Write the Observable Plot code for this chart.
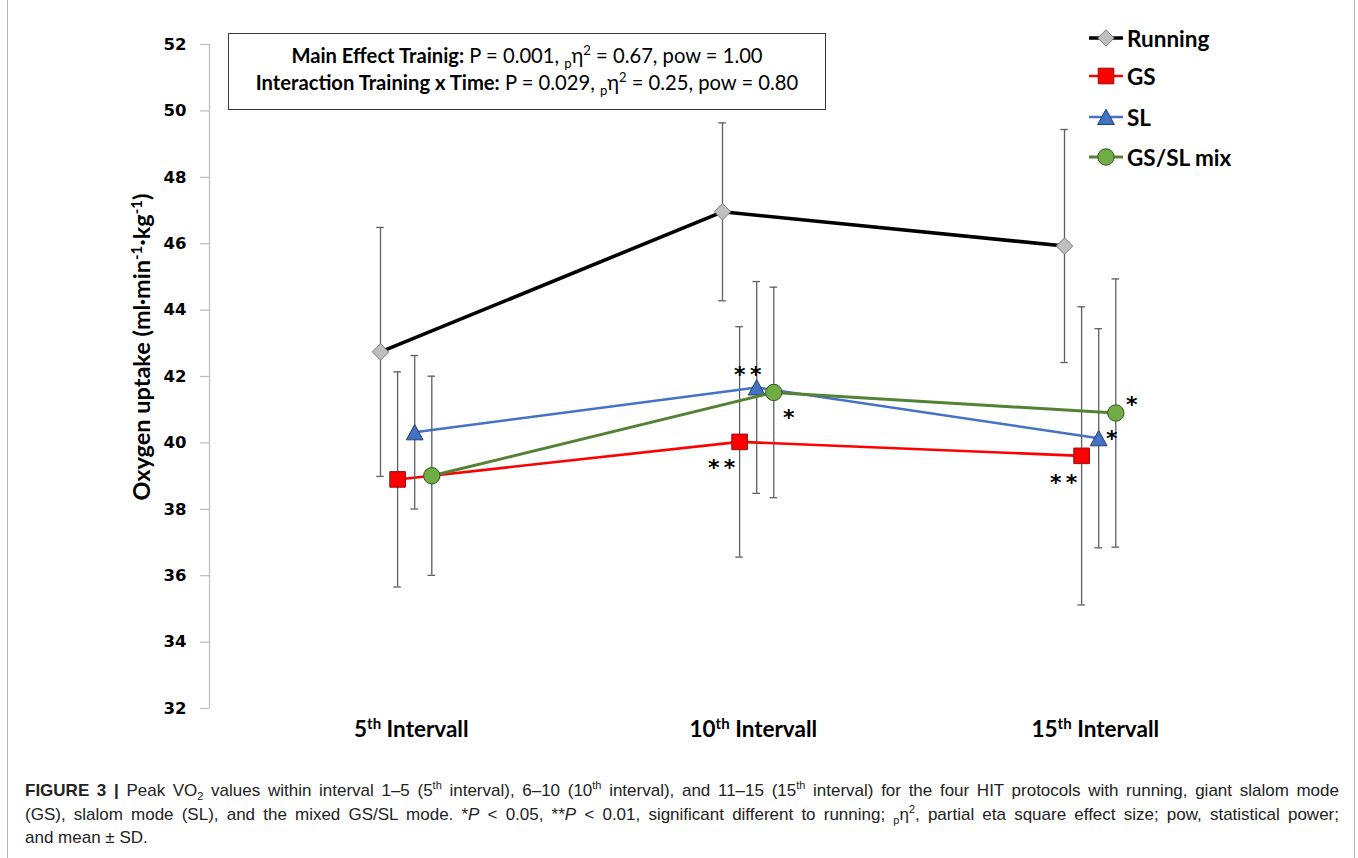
<!DOCTYPE html>
<html>
<head>
<meta charset="utf-8">
<script src="https://cdn.jsdelivr.net/npm/d3@7"></script>
<script src="https://cdn.jsdelivr.net/npm/@observablehq/plot@0.6"></script>
<style>
  html, body { margin: 0; padding: 0; background: #fff; }
  #wrap { position: relative; width: 1358px; height: 858px; overflow: hidden; background: #fff; }
  #chart { position: absolute; left: 0; top: 0; }
  #stats { position: absolute; left: 228px; top: 33px; width: 598px; height: 77px; border: 1.3px solid #3a3a3a;
           font-family: Lato, "Open Sans", sans-serif; font-size: 20.2px; color: #000; text-align: center;
           line-height: 27px; padding-top: 8px; box-sizing: border-box; white-space: nowrap; }
  #stats sub, #stats sup { font-size: 13px; line-height: 0; }
  #legend { position: absolute; left: 1087px; top: 24px; font-family: Lato, "Open Sans", sans-serif; font-weight: 700; font-size: 22.5px; color: #000; }
  .lrow { position: absolute; left: 0; height: 28px; display: flex; align-items: center; white-space: nowrap; }
  .lrow svg { margin-right: 2px; }
  #caption { position: absolute; left: 25px; top: 779px; width: 1314px; font-family: "Liberation Sans", Arial, sans-serif; font-size: 17px;
             line-height: 23.5px; color: #222; }
  #caption .cl { white-space: nowrap; }
  #caption .j { text-align: justify; text-align-last: justify; white-space: normal; }
  #caption sup, #caption sub { font-size: 11px; line-height: 0; }
  #caption b { font-weight: 700; }
  .vline { position: absolute; top: 0; width: 0; height: 858px; border-left: 1.5px solid #b5b5b5; }
</style>
</head>
<body>
<div id="wrap">
  <div id="chart"></div>
  <div id="stats"><b>Main Effect Trainig:</b> P = 0.001, <sub>p</sub>η<sup>2</sup> = 0.67, pow = 1.00<br><b>Interaction Training x Time:</b> P = 0.029, <sub>p</sub>η<sup>2</sup> = 0.25, pow = 0.80</div>
  <div id="legend"></div>
  <div id="caption">
    <div class="cl j"><b>FIGURE 3 |</b> Peak VO<sub>2</sub> values within interval 1–5 (5<sup>th</sup> interval), 6–10 (10<sup>th</sup> interval), and 11–15 (15<sup>th</sup> interval) for the four HIT protocols with running, giant slalom mode</div>
    <div class="cl j">(GS), slalom mode (SL), and the mixed GS/SL mode. *<i>P</i> &lt; 0.05, **<i>P</i> &lt; 0.01, significant different to running; <sub>p</sub>η<sup>2</sup>, partial eta square effect size; pow, statistical power;</div>
    <div class="cl">and mean ± SD.</div>
  </div>
  <div class="vline" style="left:7px"></div>
  <div class="vline" style="left:1354px"></div>
</div>
<script>
// ---------------- DATA ----------------
const intervals = ["5th Intervall", "10th Intervall", "15th Intervall"];
const seriesNames = ["Running", "GS", "SL", "GS/SL mix"];
const yTicks = [32, 34, 36, 38, 40, 42, 44, 46, 48, 50, 52];

const runningMean = [42.74, 46.96, 45.93];
const runningSD   = [3.75, 2.68, 3.51];
const gsMean      = [38.90, 40.03, 39.61];
const gsSD        = [3.24, 3.47, 4.49];
const slMean      = [40.32, 41.67, 40.14];
const slSD        = [2.31, 3.19, 3.30];
const mixMean     = [39.01, 41.52, 40.90];
const mixSD       = [3.00, 3.17, 4.04];

const runningSig  = ["", "", ""];
const gsSig       = ["", "**", "**"];
const slSig       = ["", "**", "*"];
const mixSig      = ["", "*", "*"];

// ---------------- TABLE ----------------
const means = [runningMean, gsMean, slMean, mixMean];
const sds = [runningSD, gsSD, slSD, mixSD];
const sigs = [runningSig, gsSig, slSig, mixSig];
const rows = seriesNames.flatMap((s, si) => intervals.map((iv, i) => ({
  series: s, i, interval: iv, mean: means[si][i], sd: sds[si][i], sig: sigs[si][i]
})));

// ---------------- STYLE ----------------
function mkSym(kind) {
  return {
    draw(ctx, size) {
      const r = Math.sqrt(size / Math.PI);
      if (kind === "diamond") {
        ctx.moveTo(0, -r); ctx.lineTo(r, 0); ctx.lineTo(0, r); ctx.lineTo(-r, 0); ctx.closePath();
      } else if (kind === "square") {
        ctx.moveTo(-r, -r); ctx.lineTo(r, -r); ctx.lineTo(r, r); ctx.lineTo(-r, r); ctx.closePath();
      } else if (kind === "triangle") {
        ctx.moveTo(0, -0.95 * r); ctx.lineTo(1.02 * r, 0.92 * r); ctx.lineTo(-1.02 * r, 0.92 * r); ctx.closePath();
      } else {
        ctx.moveTo(r, 0); ctx.arc(0, 0, r, 0, 2 * Math.PI); ctx.closePath();
      }
    }
  };
}
const styles = {
  "Running":   {offset: 0.00, line: "#000000", width: 3.6, fill: "#bfbfbf", stroke: "#7a7a7a", sym: "diamond",  r: 8.2},
  "GS":        {offset: 0.05, line: "#ff0000", width: 2.6, fill: "#ff0000", stroke: "#8c1010", sym: "square",   r: 7.8},
  "SL":        {offset: 0.10, line: "#4472c4", width: 2.6, fill: "#4472c4", stroke: "#22406e", sym: "triangle", r: 8.2},
  "GS/SL mix": {offset: 0.15, line: "#548235", width: 3.0, fill: "#70ad47", stroke: "#35531f", sym: "circle",   r: 8.2}
};
const sigPlacement = { // [dx, dy] in px relative to the marker
  "GS|1": [-18, 20], "SL|1": [-9, -19], "GS/SL mix|1": [15, 20],
  "GS|2": [-18, 21], "SL|2": [13, -5], "GS/SL mix|2": [16, -14]
};
const xOf = d => d.i + 0.5 + styles[d.series].offset;
const capHalf = 0.011;
const barColor = "#5f5f5f";

const marks = [];
marks.push(Plot.axisY({ticks: yTicks, tickSize: 9, tickPadding: 14, stroke: "#bfbfbf", strokeWidth: 1.3,
  fontSize: 16.5, fontFamily: "DejaVu Sans", fontWeight: "bold", fill: "#000", label: null}));
marks.push(Plot.ruleX([0], {stroke: "#bfbfbf", strokeWidth: 1.3}));

seriesNames.forEach(s => {
  const data = rows.filter(d => d.series === s);
  const st = styles[s];
  marks.push(Plot.ruleX(data, {x: xOf, y1: d => d.mean - d.sd, y2: d => d.mean + d.sd, stroke: barColor, strokeWidth: 1.3}));
  marks.push(Plot.ruleY(data, {y: d => d.mean - d.sd, x1: d => xOf(d) - capHalf, x2: d => xOf(d) + capHalf, stroke: barColor, strokeWidth: 1.3}));
  marks.push(Plot.ruleY(data, {y: d => d.mean + d.sd, x1: d => xOf(d) - capHalf, x2: d => xOf(d) + capHalf, stroke: barColor, strokeWidth: 1.3}));
  marks.push(Plot.line(data, {x: xOf, y: "mean", stroke: st.line, strokeWidth: st.width}));
  marks.push(Plot.dot(data, {x: xOf, y: "mean", r: st.r, symbol: mkSym(st.sym), fill: st.fill, stroke: st.stroke, strokeWidth: 1}));
});

rows.filter(d => d.sig).forEach(d => {
  const [dx, dy] = sigPlacement[d.series + "|" + d.i];
  marks.push(Plot.text([d], {x: xOf, y: "mean", text: d => d.sig.split("").join("\u2009"), dx, dy: dy + 6, fontSize: 22,
    fontFamily: "DejaVu Sans", fontWeight: "bold", fill: "#000"}));
});

marks.push(Plot.text(intervals, {x: (d, i) => i + 0.5 + 0.09, frameAnchor: "bottom", text: d => d, dy: 28,
  fontSize: 22.5, fontFamily: "Lato", fontWeight: "bold", fill: "#000"}));

const plot = Plot.plot({
  width: 1358, height: 760,
  marginLeft: 209, marginRight: 123, marginTop: 44, marginBottom: 52,
  x: {domain: [0, 3], axis: null},
  y: {domain: [32, 52]},
  style: {background: "transparent", overflow: "visible"},
  marks
});
document.getElementById("chart").appendChild(plot);

// superscripts in x labels
const svg = d3.select(plot);
svg.selectAll("text").each(function() {
  const t = d3.select(this);
  if (t.selectAll("tspan").size() > 0) return;
  const s = t.text();
  const m = s.match(/^(\d+)(th)( Intervall)$/);
  if (!m) return;
  t.text("");
  t.append("tspan").text(m[1]);
  t.append("tspan").attr("dy", "-8").attr("font-size", 15).text(m[2]);
  t.append("tspan").attr("dy", "8").text(m[3]);
});

// y-axis title
const yt = svg.append("text")
  .attr("transform", "translate(142,347) rotate(-90)")
  .attr("text-anchor", "middle").attr("dy", "0.35em")
  .attr("font-family", "Lato").attr("font-weight", "bold").attr("font-size", 23.5).attr("fill", "#000");
yt.append("tspan").text("Oxygen uptake (ml·min");
yt.append("tspan").attr("dy", -8).attr("font-size", 15).text("-1");
yt.append("tspan").attr("dy", 8).text("·kg");
yt.append("tspan").attr("dy", -8).attr("font-size", 15).text("-1");
yt.append("tspan").attr("dy", 8).text(")");

// legend
const legend = d3.select("#legend");
seriesNames.forEach((s, k) => {
  const st = styles[s];
  const row = legend.append("div").attr("class", "lrow").style("top", [0, 38, 79, 119][k] + "px");
  const sv = row.append("svg").attr("width", 38).attr("height", 28);
  sv.append("line").attr("x1", 2).attr("x2", 36).attr("y1", 14).attr("y2", 14).attr("stroke", st.line).attr("stroke-width", st.width);
  const p = d3.path();
  mkSym(st.sym).draw(p, st.r * st.r * Math.PI);
  sv.append("path").attr("d", p.toString()).attr("transform", "translate(19,14)").attr("fill", st.fill).attr("stroke", st.stroke);
  row.append("span").text(s);
});
</script>
</body>
</html>
